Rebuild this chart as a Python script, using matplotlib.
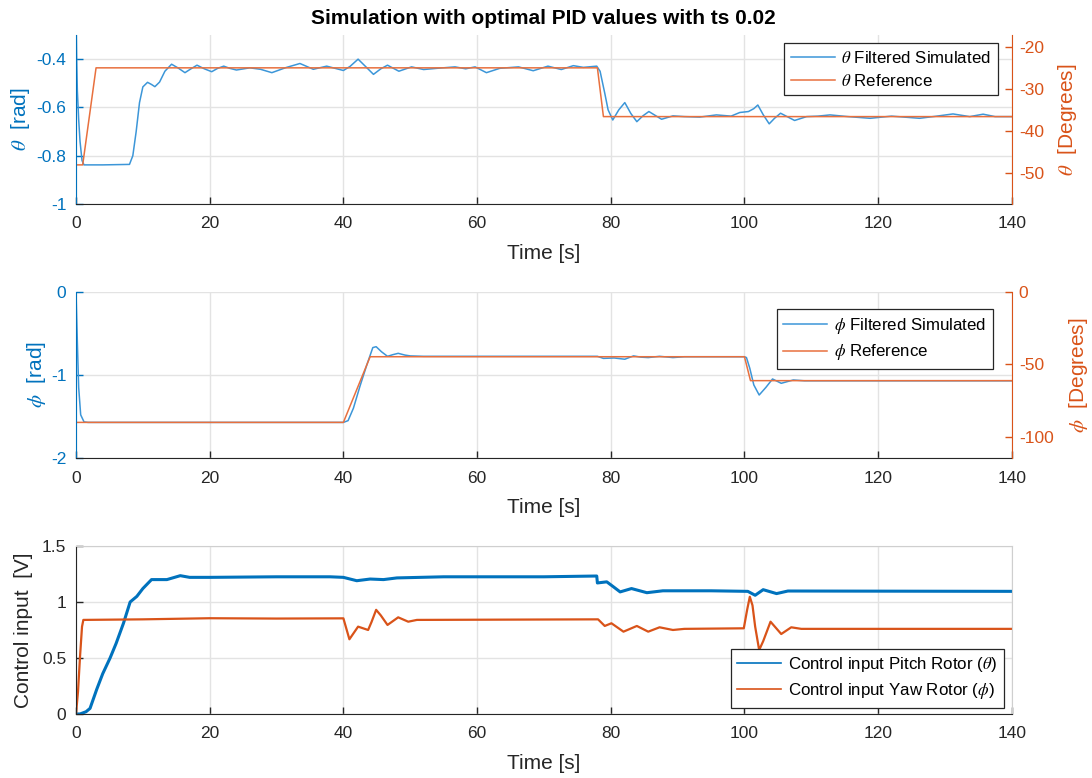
import numpy as np
import matplotlib
matplotlib.use("Agg")
import matplotlib.pyplot as plt
from matplotlib.ticker import FuncFormatter

plt.rcParams['font.family'] = ['Liberation Sans', 'DejaVu Sans']
plt.rcParams['mathtext.fontset'] = 'stix'
plt.rcParams['axes.unicode_minus'] = False

# ---------------- data ----------------
theta_ref_t = [0, 1.0, 3.0, 78.0, 78.9, 140]
theta_ref_v = [-0.838, -0.838, -0.436, -0.436, -0.638, -0.638]

theta_sim_t = [0, 0.1, 0.2, 0.4, 0.6, 0.9, 1.2, 4, 8, 8.5, 9, 9.5, 10, 10.7, 11.3, 11.8,
               12.5, 13.3, 14.3, 15.3, 16.3, 17.2, 18.1, 19.2, 20.3, 21.2, 22.1, 23, 24.0,
               26.0, 27.6, 29.3, 31.4, 33.5, 35.5, 37.5, 40, 41, 42.2, 43.3, 44.5, 45.6, 46.6,
               48.3, 50.2, 52, 54, 56.7, 58.3, 59.7, 61.4, 63.4, 66.2, 68.4, 70.6, 72.6, 74.4,
               75.9, 77.9, 78.4, 79.1, 79.6, 80.3, 81.2, 82.1, 83.0, 83.9, 84.8, 85.7, 87.6,
               89.3, 91, 93.3, 95.8, 98, 99.3, 100.6, 101.4, 102.0, 102.8, 103.7, 104.5, 105.4,
               107.5, 109.3, 111, 112.8, 115.5, 118.8, 122, 126.2, 128.5, 131.2, 133.7, 135.7,
               137.5, 140]
theta_sim_v = [-0.20, -0.40, -0.53, -0.65, -0.74, -0.82, -0.838, -0.838, -0.836, -0.80, -0.70,
               -0.58, -0.515, -0.496, -0.505, -0.514, -0.495, -0.45, -0.421, -0.437, -0.456,
               -0.44, -0.425, -0.44, -0.452, -0.438, -0.429, -0.438, -0.445, -0.436, -0.442,
               -0.456, -0.435, -0.418, -0.442, -0.429, -0.447, -0.43, -0.400, -0.43, -0.463,
               -0.44, -0.425, -0.45, -0.432, -0.443, -0.438, -0.432, -0.44, -0.432, -0.456,
               -0.438, -0.432, -0.448, -0.429, -0.443, -0.427, -0.434, -0.429, -0.45, -0.541,
               -0.61, -0.652, -0.61, -0.580, -0.625, -0.659, -0.635, -0.617, -0.649, -0.635,
               -0.638, -0.640, -0.631, -0.636, -0.621, -0.617, -0.605, -0.590, -0.63, -0.668,
               -0.645, -0.624, -0.654, -0.638, -0.636, -0.631, -0.638, -0.645, -0.636, -0.645,
               -0.637, -0.627, -0.638, -0.628, -0.638, -0.638]

phi_ref_t = [0, 40.0, 44.0, 100.0, 100.9, 140]
phi_ref_v = [-1.571, -1.571, -0.78, -0.78, -1.068, -1.068]

phi_sim_t = [0, 0.2, 0.4, 0.7, 1.2, 1.8, 40, 40.7, 41.5, 42.5, 43.5, 44.4, 44.9, 45.7, 46.6,
             47.4, 48.2, 49.2, 50, 52, 78, 78.9, 80.5, 82.1, 83.4, 84.5, 85.6, 87.3, 89.3, 91,
             100, 100.3, 100.8, 101.4, 102.2, 103.2, 104.2, 105.5, 107.3, 109, 140]
phi_sim_v = [0.0, -0.6, -1.15, -1.48, -1.565, -1.571, -1.571, -1.55, -1.40, -1.13, -0.88,
             -0.67, -0.659, -0.72, -0.775, -0.755, -0.739, -0.76, -0.770, -0.775, -0.775,
             -0.80, -0.795, -0.81, -0.77, -0.785, -0.79, -0.775, -0.79, -0.78, -0.78, -0.79,
             -0.92, -1.12, -1.241, -1.15, -1.048, -1.10, -1.06, -1.07, -1.07]

u_pitch_t = [0, 0.6, 1.5, 2.1, 3.1, 4, 5.1, 6, 7.1, 8.1, 9.1, 10, 11.3, 13.6, 15.6, 17, 20,
             30, 38, 40, 42, 44, 46, 48, 55, 70, 77.9, 78.0, 79.4, 80.3, 81.4, 83.1, 85.4,
             87.8, 95, 100.5, 101.6, 102.8, 104.8, 106.5, 140]
u_pitch_v = [0, 0, 0.02, 0.05, 0.22, 0.36, 0.50, 0.63, 0.81, 1.00, 1.05, 1.12, 1.20, 1.20,
             1.235, 1.22, 1.22, 1.225, 1.225, 1.22, 1.19, 1.205, 1.20, 1.215, 1.225, 1.225,
             1.232, 1.17, 1.18, 1.14, 1.09, 1.12, 1.083, 1.10, 1.10, 1.095, 1.06, 1.11, 1.075,
             1.098, 1.095]

u_yaw_t = [0, 0.3, 0.6, 0.9, 1.1, 10, 20, 30, 40, 40.9, 42.2, 43.7, 44.2, 44.9, 45.6, 46.6,
           48.2, 49.7, 51, 78.1, 79.1, 80.1, 81.9, 83.9, 85.6, 87.3, 89.3, 91, 99.9, 100.4,
           100.8, 101.2, 101.6, 102.2, 102.8, 103.9, 105.5, 107, 108.5, 140]
u_yaw_v = [0, 0.2, 0.51, 0.78, 0.84, 0.845, 0.855, 0.852, 0.854, 0.667, 0.78, 0.75, 0.82,
           0.93, 0.88, 0.795, 0.863, 0.824, 0.84, 0.845, 0.786, 0.81, 0.735, 0.786, 0.735,
           0.774, 0.75, 0.76, 0.765, 0.93, 1.047, 0.97, 0.78, 0.571, 0.65, 0.824, 0.714,
           0.774, 0.76, 0.76]

x_ticks = [0, 20, 40, 60, 80, 100, 120, 140]
theta_ticks = [-1, -0.8, -0.6, -0.4]
theta_deg_ticks = [-50, -40, -30, -20]
phi_ticks = [-2, -1, 0]
phi_deg_ticks = [-100, -50, 0]
u_ticks = [0, 0.5, 1, 1.5]

# ---------------- style ----------------
BLUE = '#0072BD'
ORANGE = '#D95319'
LBLUE = '#3C96D8'
LORANGE = '#E8703E'
DARK = '#262626'
GRID = '#E3E3E3'
TICK_FS = 12.5
LABEL_FS = 15
LEG_FS = 12.2

fmt = FuncFormatter(lambda v, p: '%g' % v)

fig = plt.figure(figsize=(10.92, 7.78), dpi=100)


def place_label(ax, x):
    ax.yaxis.set_label_coords(x, 0.5)
    ax.yaxis.label.set_verticalalignment('center')
    ax.yaxis.label.set_horizontalalignment('center')


def base_axes(rect, ylim, yticks):
    ax = fig.add_axes(rect)
    ax.set_xlim(0, 140)
    ax.set_ylim(*ylim)
    ax.set_xticks(x_ticks)
    ax.set_yticks(yticks)
    ax.yaxis.set_major_formatter(fmt)
    ax.grid(True, color=GRID, lw=1.0)
    ax.set_axisbelow(True)
    ax.tick_params(axis='x', direction='in', length=5, width=1, colors=DARK,
                   labelsize=TICK_FS, pad=9)
    ax.spines['bottom'].set_color(DARK)
    ax.set_xlabel('Time [s]', fontsize=LABEL_FS, color=DARK, labelpad=9)
    return ax


def twin_deg(ax, ylim_rad, ticks, label, xpos):
    ax2 = ax.twinx()
    ax2.set_ylim(np.degrees(ylim_rad[0]), np.degrees(ylim_rad[1]))
    ax2.set_yticks(ticks)
    ax2.yaxis.set_major_formatter(fmt)
    for s in ['top', 'left', 'bottom']:
        ax2.spines[s].set_visible(False)
    ax2.spines['right'].set_color(ORANGE)
    ax2.tick_params(axis='y', direction='in', length=5, width=1, colors=ORANGE,
                    labelsize=TICK_FS, pad=5)
    ax2.set_ylabel(label, fontsize=LABEL_FS, color=ORANGE)
    place_label(ax2, xpos)
    return ax2


def style_left(ax, label, xpos):
    ax.spines['top'].set_visible(False)
    ax.spines['right'].set_visible(False)
    ax.spines['left'].set_color(BLUE)
    ax.tick_params(axis='y', direction='in', length=5, width=1, colors=BLUE,
                   labelsize=TICK_FS, pad=7)
    ax.set_ylabel(label, fontsize=LABEL_FS, color=BLUE)
    place_label(ax, xpos)


def add_legend(ax, loc, anchor):
    leg = ax.legend(loc=loc, bbox_to_anchor=anchor, fontsize=LEG_FS,
                    fancybox=False, edgecolor=DARK, framealpha=1, handlelength=2.6,
                    borderpad=0.4, labelspacing=0.4, handletextpad=0.4,
                    borderaxespad=0)
    leg.get_frame().set_linewidth(0.9)
    leg.set_zorder(10)
    return leg


# ---- top: theta ----
ylim1 = (-1.0, -0.3)
ax1 = base_axes([0.0696, 0.7378, 0.857, 0.2172], ylim1, theta_ticks)
style_left(ax1, r'$\theta$  [rad]', -0.0588)
ax1.plot(theta_sim_t, theta_sim_v, color=LBLUE, lw=1.1, label=r'$\theta$ Filtered Simulated')
ax1.plot(theta_ref_t, theta_ref_v, color=LORANGE, lw=1.1, label=r'$\theta$ Reference')
twin_deg(ax1, ylim1, theta_deg_ticks, r'$\theta$  [Degrees]', 1.0598)
add_legend(ax1, 'upper right', (0.985, 0.953))

# ---- middle: phi ----
ylim2 = (-2.0, 0.0)
ax3 = base_axes([0.0696, 0.4113, 0.857, 0.2134], ylim2, phi_ticks)
style_left(ax3, r'$\phi$  [rad]', -0.0417)
ax3.plot(phi_sim_t, phi_sim_v, color=LBLUE, lw=1.1, label=r'$\phi$ Filtered Simulated')
ax3.plot(phi_ref_t, phi_ref_v, color=LORANGE, lw=1.1, label=r'$\phi$ Reference')
twin_deg(ax3, ylim2, phi_deg_ticks, r'$\phi$  [Degrees]', 1.0716)
add_legend(ax3, 'upper right', (0.980, 0.898))

# ---- bottom: control input ----
ax5 = base_axes([0.0696, 0.0823, 0.857, 0.2159], (0, 1.5), u_ticks)
for s in ['top', 'right']:
    ax5.spines[s].set_color('#CFCFCF')
ax5.spines['left'].set_color(DARK)
ax5.tick_params(axis='y', direction='in', length=5, width=1, colors=DARK,
                labelsize=TICK_FS, pad=7)
ax5.set_ylabel('Control input  [V]', fontsize=LABEL_FS, color=DARK)
place_label(ax5, -0.0556)
ax5.plot(u_pitch_t, u_pitch_v, color=BLUE, lw=2.2, label=r'Control input Pitch Rotor ($\theta$)')
ax5.plot(u_yaw_t, u_yaw_v, color=ORANGE, lw=1.6, label=r'Control input Yaw Rotor ($\phi$)')
leg = add_legend(ax5, 'lower right', (0.9915, 0.036))
for line in leg.get_lines():
    line.set_linewidth(1.2)

fig.text(0.498, 1 - 18 / 778, 'Simulation with optimal PID values with ts 0.02',
         ha='center', va='center', fontsize=15, fontweight='bold', color='black')

fig.savefig('out.png', dpi=100, facecolor='white')
